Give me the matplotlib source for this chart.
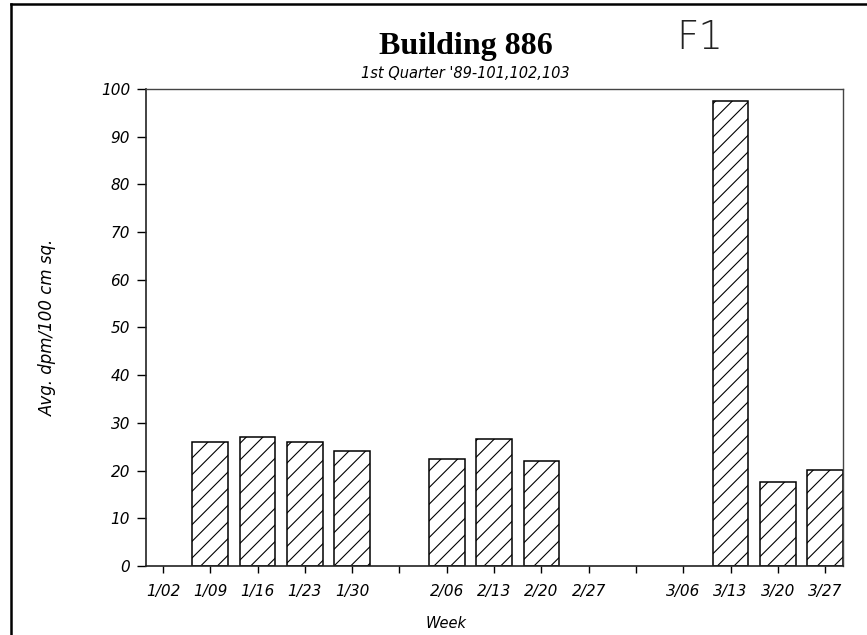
import numpy as np
import matplotlib
matplotlib.use('Agg')
import matplotlib.pyplot as plt
import matplotlib.ticker as ticker

# weekly averages, 1st quarter '89 (blank slots have no label)
weeks = ['1/02', '1/09', '1/16', '1/23', '1/30', '', '2/06', '2/13', '2/20', '2/27',
         '', '3/06', '3/13', '3/20', '3/27']
dpm = [0, 26.0, 27.1, 26.0, 24.0, 0, 22.4, 26.6, 22.0, 0, 0, 0, 97.5, 17.7, 20.1]

title = 'Building 886'
subtitle = "1st Quarter '89-101,102,103"
ylab = 'Avg. dpm/100 cm sq.'
xlab = 'Week'

plt.rcParams['hatch.linewidth'] = 0.8

fig = plt.figure(figsize=(8.67, 6.35), dpi=100)
ax = fig.add_axes([0.1684, 0.1087, 0.8039, 0.7512])

x = np.arange(len(weeks))
vals = np.array(dpm)
mask = vals > 0
ax.bar(x[mask], vals[mask], width=0.755, facecolor='white', edgecolor='black',
       linewidth=1.1, hatch='//')

ax.set_xlim(-0.36, len(weeks) - 1 + 0.3775)
ax.set_ylim(0, 100)
ax.yaxis.set_major_locator(ticker.MultipleLocator(10))
ax.set_xticks(x)
ax.set_xticklabels(weeks)

tfont = dict(family='DejaVu Sans', style='italic', size=10.5)
for lab in ax.get_xticklabels() + ax.get_yticklabels():
    lab.set_fontfamily('DejaVu Sans')
    lab.set_fontstyle('italic')
    lab.set_fontsize(11)

ax.tick_params(axis='y', direction='out', length=6.5, width=1.0, pad=5)
ax.tick_params(axis='x', direction='out', length=5, width=1.0, pad=8)

for s in ['left', 'bottom']:
    ax.spines[s].set_linewidth(1.2)
    ax.spines[s].set_color('#222222')
for s in ['top', 'right']:
    ax.spines[s].set_linewidth(1.0)
    ax.spines[s].set_color('#444444')

ax.set_ylabel(ylab, family='DejaVu Sans', style='italic', size=12)
ax.yaxis.set_label_coords(-0.128, 0.5)
ax.set_xlabel(xlab, **tfont)
ax.xaxis.set_label_coords(0.43, -0.104)

fig.text(0.537, 0.915, title, ha='center', va='baseline', family='Liberation Serif',
         weight='bold', size=23)
fig.text(0.537, 0.877, subtitle, ha='center', va='baseline', **tfont)

# handwritten sheet tag
fig.text(0.807, 0.94, 'F1', ha='center', va='center', family='DejaVu Sans',
         weight='light', size=28, color='#222222')

# page border from the scan
fig.add_artist(plt.Line2D([0.0127, 0.0127], [0.0, 0.994], transform=fig.transFigure,
                          color='black', linewidth=1.8))
fig.add_artist(plt.Line2D([0.0127, 1.0], [0.994, 0.994], transform=fig.transFigure,
                          color='black', linewidth=1.8))

fig.savefig('out.png', dpi=100, facecolor='white')
